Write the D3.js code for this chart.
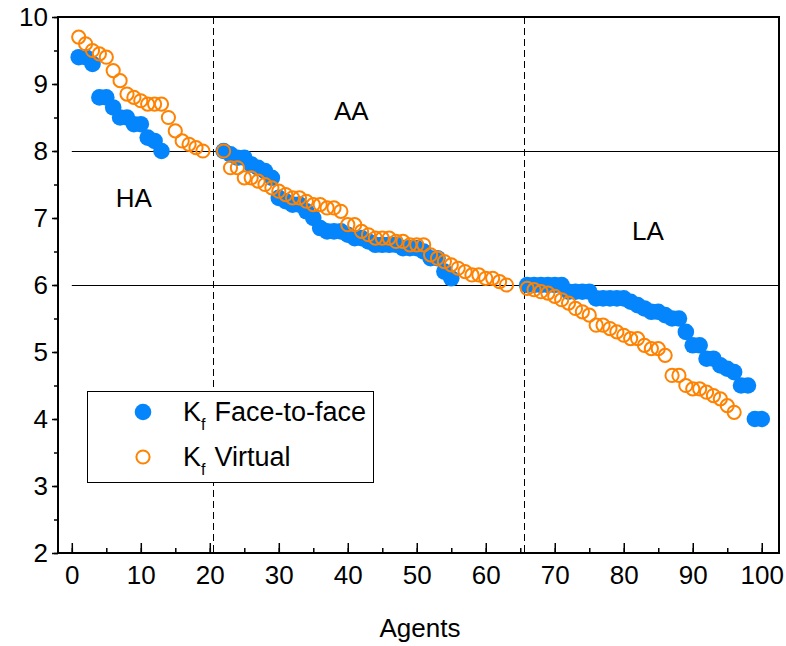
<!DOCTYPE html>
<html><head><meta charset="utf-8">
<script src="https://cdn.jsdelivr.net/npm/d3@7/dist/d3.min.js"></script>
<style>body{margin:0;background:#fff}svg{display:block}text{font-family:Arial,"Liberation Sans",sans-serif;fill:#000}</style>
</head><body><svg id="c" width="786" height="646"></svg>
<script>
const faceAgents = [1,2,3,4,5,6,7,8,9,10,11,12,13,
 22,23,24,25,26,27,28,29,30,31,32,33,34,35,36,37,38,39,40,41,42,43,44,45,46,47,48,49,50,51,52,53,54,55,
 66,67,68,69,70,71,72,73,74,75,76,77,78,79,80,81,82,83,84,85,86,87,88,89,90,91,92,93,94,95,96,97,98,99,100];
const faceKf = [9.4,9.4,9.3,8.8,8.8,8.65,8.5,8.5,8.4,8.4,8.2,8.15,8.0,
 8.0,7.95,7.9,7.9,7.8,7.75,7.7,7.6,7.3,7.25,7.2,7.2,7.1,7.0,6.85,6.8,6.8,6.8,6.75,6.7,6.7,6.65,6.6,6.6,6.6,6.6,6.55,6.55,6.55,6.5,6.4,6.4,6.2,6.1,
 6.0,6.0,6.0,6.0,6.0,6.0,5.9,5.9,5.9,5.9,5.8,5.8,5.8,5.8,5.8,5.75,5.7,5.65,5.6,5.6,5.55,5.5,5.5,5.3,5.1,5.1,4.9,4.9,4.8,4.75,4.7,4.5,4.5,4.0,4.0];
const virtualAgents = [1,2,3,4,5,6,7,8,9,10,11,12,13,14,15,16,17,18,19,
 22,23,24,25,26,27,28,29,30,31,32,33,34,35,36,37,38,39,40,41,42,43,44,45,46,47,48,49,50,51,52,53,54,55,56,57,58,59,60,61,62,63,
 66,67,68,69,70,71,72,73,74,75,76,77,78,79,80,81,82,83,84,85,86,87,88,89,90,91,92,93,94,95,96];
const virtualKf = [9.7,9.6,9.5,9.45,9.4,9.2,9.05,8.85,8.8,8.75,8.7,8.7,8.7,8.5,8.3,8.15,8.1,8.05,8.0,
 8.0,7.75,7.75,7.6,7.6,7.55,7.5,7.45,7.4,7.35,7.3,7.3,7.25,7.2,7.2,7.15,7.15,7.1,6.9,6.9,6.8,6.75,6.7,6.7,6.7,6.65,6.65,6.6,6.6,6.6,6.45,6.4,6.35,6.3,6.25,6.2,6.15,6.15,6.1,6.1,6.05,6.0,
 5.95,5.93,5.9,5.88,5.83,5.78,5.73,5.65,5.6,5.55,5.4,5.4,5.35,5.3,5.25,5.2,5.2,5.1,5.05,5.05,4.95,4.65,4.65,4.5,4.45,4.45,4.4,4.35,4.3,4.2,4.1];
const xTicks = [0,10,20,30,40,50,60,70,80,90,100];
const yTicks = [2,3,4,5,6,7,8,9,10];
const refLines = [8,6];
const dividers = [20.5,65.5];
const regions = [{t:"HA",x:9,y:7.3},{t:"AA",x:40.5,y:8.6},{t:"LA",x:83.5,y:6.8}];
const legendItems = [{name:"Face-to-face",type:"face"},{name:"Virtual",type:"virtual"}];

const blue="#0585fc", orange="#ff8200";
const svg=d3.select("#c");
const x=d3.scaleLinear().domain([-2,102.5]).range([58,779]);
const y=d3.scaleLinear().domain([2,10]).range([553,17]);

svg.selectAll(".ref").data(refLines).enter().append("line")
 .attr("x1",x(0)).attr("x2",x(102.5)).attr("y1",d=>y(d)+0.5).attr("y2",d=>y(d)+0.5)
 .attr("stroke","#000").attr("stroke-width",1);
svg.selectAll(".div").data(dividers).enter().append("line")
 .attr("x1",d=>Math.round(x(d))+0.5).attr("x2",d=>Math.round(x(d))+0.5).attr("y1",y(10)).attr("y2",y(2))
 .attr("stroke","#000").attr("stroke-width",1).attr("stroke-dasharray","7,4");

const xMinor=d3.range(0,101,5);
const yMinor=d3.range(2,10.01,0.5);
const xAxis=d3.axisBottom(x).tickValues(xTicks).tickSize(-10).tickPadding(13).tickFormat(d3.format("d"));
const gx=svg.append("g").attr("transform",`translate(0,${y(2)})`).call(xAxis);
gx.selectAll(".tick text").attr("font-size",26).attr("dy","0.71em");
svg.append("g").attr("transform",`translate(0,${y(2)})`)
 .call(d3.axisBottom(x).tickValues(xMinor).tickSize(-5).tickFormat(""));
const yAxis=d3.axisLeft(y).tickValues(yTicks).tickSize(6).tickPadding(4);
const gy=svg.append("g").attr("transform",`translate(${x(-2)},0)`).call(yAxis);
gy.selectAll(".tick text").attr("font-size",26);
svg.append("g").attr("transform",`translate(${x(-2)},0)`)
 .call(d3.axisLeft(y).tickValues(yMinor).tickSize(4).tickFormat(""));
svg.selectAll(".domain").remove();
svg.selectAll(".tick line").attr("stroke","#000").attr("stroke-width",1.5);
svg.append("rect").attr("x",x(-2)).attr("y",y(10)).attr("width",x(102.5)-x(-2)).attr("height",y(2)-y(10))
 .attr("fill","none").attr("stroke","#000").attr("stroke-width",2);

svg.append("g").selectAll("circle").data(faceAgents).enter().append("circle")
 .attr("cx",d=>x(d)).attr("cy",(d,i)=>y(faceKf[i])).attr("r",8.3).attr("fill",blue);
svg.append("g").selectAll("circle").data(virtualAgents).enter().append("circle")
 .attr("cx",d=>x(d)).attr("cy",(d,i)=>y(virtualKf[i])).attr("r",6.6)
 .attr("fill","none").attr("stroke",orange).attr("stroke-width",2);

svg.selectAll(".reg").data(regions).enter().append("text")
 .attr("x",d=>x(d.x)).attr("y",d=>y(d.y)).attr("text-anchor","middle").attr("dominant-baseline","central")
 .attr("font-size",26).text(d=>d.t);

svg.append("text").attr("x",420).attr("y",637).attr("text-anchor","middle").attr("font-size",26).text("Agents");

const lg=svg.append("g");
lg.append("rect").attr("x",87.5).attr("y",391.5).attr("width",286).attr("height",91)
 .attr("fill","#fff").attr("stroke","#000").attr("stroke-width",1);
legendItems.forEach((it,i)=>{
 const cy=412+i*45;
 if(it.type==="face") lg.append("circle").attr("cx",143).attr("cy",cy).attr("r",8.3).attr("fill",blue);
 else lg.append("circle").attr("cx",143).attr("cy",cy).attr("r",6.6).attr("fill","none").attr("stroke",orange).attr("stroke-width",2);
 const t=lg.append("text").attr("x",183).attr("y",cy+9).attr("font-size",27);
 t.append("tspan").text("K");
 t.append("tspan").attr("font-size",16).attr("dy",9).text("f");
 t.append("tspan").attr("dy",-9).attr("dx",9).text(it.name);
});
</script></body></html>
